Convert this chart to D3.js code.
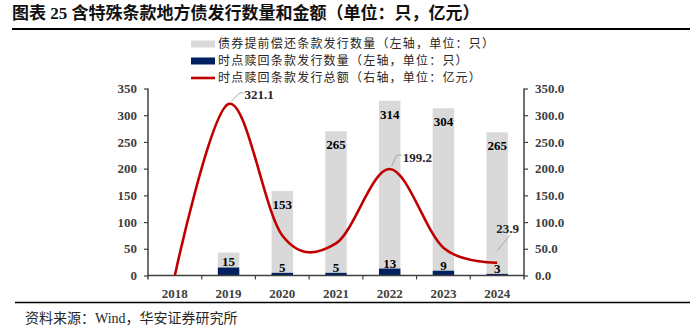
<!DOCTYPE html>
<html><head><meta charset="utf-8">
<script src="https://cdn.jsdelivr.net/npm/d3@7"></script>
<style>body{margin:0;background:#fff}svg{display:block}</style>
</head><body>
<script>
const years = ["2018","2019","2020","2021","2022","2023","2024"];
const putCount = [1, 28, 153, 265, 314, 304, 265];      // 债券提前偿还条款发行数量
const putLabels = [null, null, "153", "265", "314", "304", "265"];
const callCount = [0, 15, 5, 5, 13, 9, 3];              // 时点赎回条款发行数量
const callLabels = [null, "15", "5", "5", "13", "9", "3"];
const callAmount = [0, 321.1, 75, 60, 199.2, 52, 23.9]; // 时点赎回条款发行总额
const leftTicks = [0,50,100,150,200,250,300,350];
const rightTicks = [0,50,100,150,200,250,300,350];

const W=700,H=336;
const serif = "'Liberation Serif','Times New Roman','Noto Sans CJK SC',serif";
const cjk = "'Noto Sans CJK SC','Liberation Serif',sans-serif";
const svg = d3.select("body").append("svg").attr("width",W).attr("height",H);

// title
svg.append("text").attr("x",12).attr("y",19).attr("font-family",serif).attr("font-weight","bold")
  .attr("font-size",17).attr("fill","#111").text("图表 25 含特殊条款地方债发行数量和金额（单位：只，亿元）");
svg.append("line").attr("x1",12).attr("x2",690).attr("y1",29).attr("y2",29).attr("stroke","#000").attr("stroke-width",2);

const x0=148,x1=524,yTop=88.5,yBot=275.5;
const x = d3.scaleBand().domain(years).range([x0,x1]).paddingInner(0.6).paddingOuter(0.3);
const xb = d3.scaleBand().domain(years).range([x0,x1]);
const yL = d3.scaleLinear().domain([0,350]).range([yBot,yTop]);
const yR = d3.scaleLinear().domain([0,350]).range([yBot,yTop]);

const rows = years.map((y,i)=>({year:y, put:putCount[i], call:callCount[i], pl:putLabels[i], cl:callLabels[i]}));

// bars (stacked: call at bottom, put on top)
const g = svg.append("g");
g.selectAll(".put").data(rows).enter().append("rect")
  .attr("x",d=>x(d.year)).attr("width",x.bandwidth())
  .attr("y",d=>yL(d.call+d.put))
  .attr("height",d=>yL(d.call)-yL(d.call+d.put))
  .attr("fill","#D9D9D9");
g.selectAll(".call").data(rows).enter().append("rect")
  .attr("x",d=>x(d.year)).attr("width",x.bandwidth())
  .attr("y",d=>yL(d.call))
  .attr("height",d=>yL(0)-yL(d.call))
  .attr("fill","#002060");

// axes
const axisColor="#404040";
const axL = svg.append("g").attr("transform",`translate(${x0},0)`)
  .call(d3.axisLeft(yL).tickValues(leftTicks).tickSize(4).tickPadding(7).tickFormat(d3.format("d")));
const axR = svg.append("g").attr("transform",`translate(${x1},0)`)
  .call(d3.axisRight(yR).tickValues(rightTicks).tickSize(4).tickPadding(7).tickFormat(d3.format(".1f")));
[axL,axR].forEach(a=>{
  a.select(".domain").attr("stroke",axisColor).attr("stroke-width",1.5).attr("d",`M0,${yTop}V${yBot+4}`);
  a.selectAll(".tick line").attr("stroke",axisColor).attr("stroke-width",1.2);
  a.selectAll(".tick text").attr("font-family",serif).attr("font-weight","bold").attr("font-size",13).attr("fill","#404040");
});
// x axis
const axX = svg.append("g").attr("transform",`translate(0,${yBot})`);
axX.append("line").attr("x1",x0).attr("x2",x1).attr("stroke",axisColor).attr("stroke-width",1.5);
axX.selectAll(".xt").data(years.slice(1)).enter().append("line")
  .attr("x1",d=>xb(d)).attr("x2",d=>xb(d)).attr("y1",0).attr("y2",4).attr("stroke",axisColor).attr("stroke-width",1.2);
axX.selectAll(".xl").data(years).enter().append("text")
  .attr("x",d=>xb(d)+xb.bandwidth()/2).attr("y",22).attr("text-anchor","middle")
  .attr("font-family",serif).attr("font-weight","bold").attr("font-size",13).attr("fill","#404040").text(d=>d);

// bar labels
g.selectAll(".pl").data(rows.filter(d=>d.pl)).enter().append("text")
  .attr("x",d=>x(d.year)+x.bandwidth()/2).attr("y",d=>yL(d.call+d.put)+18)
  .attr("text-anchor","middle").attr("font-family",serif).attr("font-weight","bold").attr("font-size",13)
  .attr("fill","#000").text(d=>d.pl);
g.selectAll(".cl").data(rows.filter(d=>d.cl)).enter().append("text")
  .attr("x",d=>x(d.year)+x.bandwidth()/2).attr("y",d=>yL(d.call)-1)
  .attr("text-anchor","middle").attr("font-family",serif).attr("font-weight","bold").attr("font-size",13)
  .attr("fill","#000").text(d=>d.cl);

// line
const cx = d=>xb(d)+xb.bandwidth()/2;
const line = d3.line().x((d,i)=>cx(years[i])).y(d=>yR(d)).curve(d3.curveCardinal.tension(0));
svg.append("path").datum(callAmount).attr("d",line).attr("fill","none")
  .attr("stroke","#C00000").attr("stroke-width",2.6);

// line labels with leader lines
const lineLabels = [
  {i:1, txt:"321.1", pts:[[3,-3],[11,-11],[15,-11]], tx:16, ty:-5},
  {i:4, txt:"199.2", pts:[[2,-3],[7,-14],[12,-14]], tx:13, ty:-7},
  {i:6, txt:"23.9", pts:[[0,-12],[13,-28]], tx:-1, ty:-30}
];
lineLabels.forEach(l=>{
  const px=cx(years[l.i]), py=yR(callAmount[l.i]);
  svg.append("polyline").attr("points",l.pts.map(p=>[px+p[0],py+p[1]].join(",")).join(" "))
    .attr("fill","none").attr("stroke","#A6A6A6").attr("stroke-width",1);
  svg.append("text").attr("x",px+l.tx).attr("y",py+l.ty).attr("font-family",serif).attr("font-weight","bold")
    .attr("font-size",13).attr("fill","#262626").text(l.txt);
});

// legend
const legend = [
  {t:"债券提前偿还条款发行数量（左轴，单位：只）", type:"rect", c:"#D9D9D9"},
  {t:"时点赎回条款发行数量（左轴，单位：只）", type:"rect", c:"#002060"},
  {t:"时点赎回条款发行总额（右轴，单位：亿元）", type:"line", c:"#C00000"}
];
legend.forEach((l,k)=>{
  const ly = 44 + k*17;
  if(l.type==="rect") svg.append("rect").attr("x",191).attr("y",ly-3.5).attr("width",24).attr("height",7).attr("fill",l.c);
  else svg.append("line").attr("x1",191).attr("x2",215).attr("y1",ly).attr("y2",ly).attr("stroke",l.c).attr("stroke-width",2.6);
  svg.append("text").attr("x",218).attr("y",ly+4.3).attr("font-family",cjk).attr("font-size",12)
    .attr("letter-spacing","1.2px").attr("fill","#262626").text(l.t);
});

// footer
svg.append("line").attr("x1",15).attr("x2",690).attr("y1",302.5).attr("y2",302.5).attr("stroke","#000").attr("stroke-width",1.5);
svg.append("text").attr("x",25).attr("y",323).attr("font-family",serif).attr("font-size",14)
  .attr("fill","#262626").text("资料来源：Wind，华安证券研究所");
</script>
</body></html>
